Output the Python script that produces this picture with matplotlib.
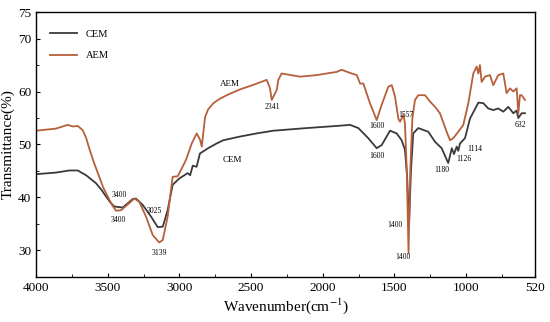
import matplotlib.pyplot as plt
import numpy as np

plt.rcParams['font.family'] = ['Liberation Serif', 'DejaVu Serif']
plt.rcParams['mathtext.fontset'] = 'stix'

# CEM spectrum (wavenumber, transmittance)
cem_wn = [4000, 3861, 3768, 3709, 3651, 3582, 3545, 3512, 3480, 3454, 3395, 3326,
          3303, 3256, 3198, 3151, 3116, 3082, 3047, 3000, 2942, 2925, 2907, 2880,
          2857, 2800, 2740, 2694, 2577, 2460, 2345, 2112, 1903, 1810, 1752, 1683,
          1624, 1589, 1531, 1485, 1450, 1427, 1412, 1398, 1385, 1369, 1334, 1264,
          1217, 1171, 1125, 1100, 1085, 1066, 1055, 1043, 1008, 973, 915, 880, 846,
          811, 776, 741, 706, 671, 648, 636, 613, 590]
cem_t = [44.4, 44.7, 45.1, 45.1, 44.2, 42.7, 41.5, 40.2, 39.0, 38.3, 38.1, 39.7,
         39.8, 38.6, 36.4, 34.4, 34.5, 37.6, 42.4, 43.6, 44.6, 44.2, 46.0, 45.8,
         48.3, 49.3, 50.2, 50.8, 51.5, 52.1, 52.6, 53.1, 53.5, 53.7, 53.1, 51.2,
         49.3, 49.9, 52.6, 52.1, 50.8, 49.0, 44.0, 35.3, 45.0, 52.1, 53.1, 52.4,
         50.5, 49.3, 46.5, 49.3, 48.2, 49.6, 48.8, 50.2, 51.2, 54.9, 57.9, 57.8,
         56.8, 56.5, 56.8, 56.2, 57.1, 55.9, 56.4, 55.0, 55.9, 55.9]

# AEM spectrum
aem_wn = [4000, 3861, 3779, 3744, 3709, 3674, 3650, 3628, 3595, 3559, 3530, 3500,
          3470, 3442, 3407, 3360, 3314, 3280, 3233, 3186, 3140, 3116, 3082, 3059,
          3047, 3012, 2989, 2954, 2914, 2879, 2856, 2844, 2821, 2800, 2763, 2720,
          2670, 2620, 2577, 2480, 2391, 2368, 2356, 2345, 2321, 2310, 2287, 2159,
          2042, 1903, 1868, 1810, 1763, 1740, 1717, 1671, 1624, 1589, 1543, 1519,
          1496, 1473, 1461, 1438, 1427, 1414, 1402, 1390, 1375, 1357, 1334, 1287,
          1252, 1217, 1183, 1136, 1113, 1090, 1055, 1020, 985, 950, 927, 915, 904,
          892, 869, 834, 811, 776, 741, 718, 694, 671, 648, 636, 625, 613, 590]
aem_t = [52.6, 53.0, 53.7, 53.4, 53.5, 52.7, 51.2, 49.2, 46.5, 43.9, 41.8, 40.2,
         38.6, 37.5, 37.6, 38.7, 39.8, 39.2, 36.4, 32.9, 31.5, 32.0, 36.4, 41.4,
         43.9, 44.0, 45.2, 47.1, 50.2, 52.1, 50.9, 49.6, 55.2, 56.6, 57.8, 58.6,
         59.3, 59.9, 60.4, 61.3, 62.2, 60.6, 58.4, 59.0, 60.3, 62.2, 63.4, 62.8,
         63.1, 63.7, 64.1, 63.5, 63.1, 61.5, 61.5, 57.8, 54.6, 57.5, 60.9, 61.2,
         59.0, 54.9, 54.3, 55.6, 54.0, 45.0, 29.5, 45.0, 55.0, 58.4, 59.3, 59.3,
         58.1, 57.1, 55.9, 52.4, 50.8, 51.2, 52.4, 53.7, 57.8, 63.4, 64.7, 63.4,
         65.0, 61.8, 62.8, 63.1, 61.2, 63.1, 63.4, 59.7, 60.6, 60.0, 60.6, 55.9,
         59.3, 59.3, 58.4]

# peak labels: (text, wavenumber, transmittance)
peak_labels = [("3400", 3419, 40.4), ("3400", 3430, 35.8), ("3025", 3175, 37.5),
               ("3139", 3140, 29.6), ("2341", 2349, 57.1), ("1600", 1624, 53.5),
               ("1600", 1624, 47.8), ("1557", 1420, 55.6), ("1400", 1496, 34.8),
               ("1400", 1438, 28.7), ("1180", 1171, 45.2), ("1126", 1015, 47.2),
               ("1114", 938, 49.1), ("632", 620, 53.7)]
curve_labels = [("AEM", 2650, 61.5), ("CEM", 2633, 47.1)]

fig = plt.figure(figsize=(5.5, 3.22), dpi=100)
ax = fig.add_axes([0.0655, 0.1398, 0.9072, 0.8229])

ax.plot(cem_wn, cem_t, color='#3a3a3a', lw=1.3, label='CEM')
ax.plot(aem_wn, aem_t, color='#b5603a', lw=1.3, label='AEM')

for txt, x, y in peak_labels:
    ax.text(x, y, txt, fontsize=5.5, ha='center', va='center')
for txt, x, y in curve_labels:
    ax.text(x, y, txt, fontsize=6.5, ha='center', va='center')

ax.set_xlim(4000, 520)
ax.set_ylim(25, 75)
ax.set_xticks([4000, 3500, 3000, 2500, 2000, 1500, 1000, 520])
ax.set_xticks(np.arange(3750, 520, -500), minor=True)
ax.set_yticks([30, 40, 50, 60, 70, 75])
ax.set_yticks([35, 45, 55, 65], minor=True)
ax.tick_params(direction='in', labelsize=9.5, length=3, width=0.8)
ax.tick_params(which='minor', direction='in', length=2, width=0.6)
for s in ax.spines.values():
    s.set_linewidth(1.0)

ax.set_xlabel('Wavenumber(cm$^{-1}$)', fontsize=11, labelpad=2)
ax.set_ylabel('Transmittance(%)', fontsize=11, labelpad=2)

ax.legend(loc='upper left', frameon=False, fontsize=7.5, handlelength=2.6,
          labelspacing=1.2, bbox_to_anchor=(0.01, 0.97))

fig.savefig('out.png', dpi=100)
